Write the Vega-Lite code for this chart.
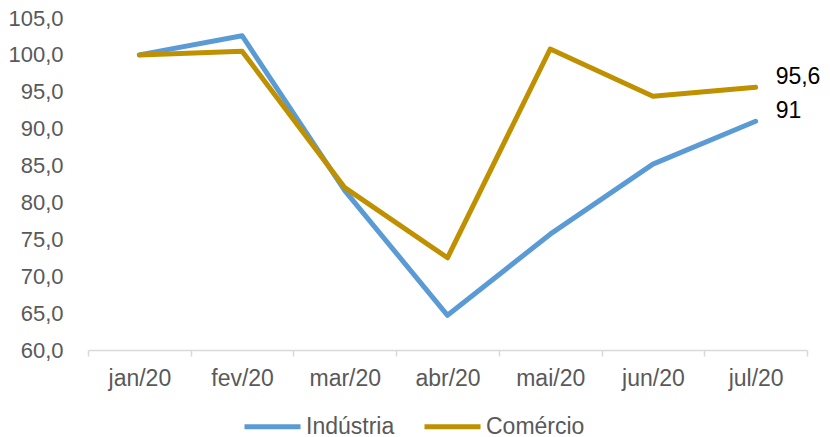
{
  "$schema": "https://vega.github.io/schema/vega-lite/v6.json",
  "width": 719,
  "height": 332,
  "autosize": {"type": "none"},
  "padding": {"left": 88, "top": 18, "right": 23, "bottom": 87},
  "background": "#ffffff",
  "config": {
    "view": {"stroke": null},
    "font": "Liberation Sans",
    "locale": {
      "number": {"decimal": ",", "thousands": ".", "grouping": [3], "currency": ["R$", ""]}
    }
  },
  "data": {
    "values": [
      {"mes": "jan/20", "serie": "Indústria", "valor": 100.0},
      {"mes": "fev/20", "serie": "Indústria", "valor": 102.6},
      {"mes": "mar/20", "serie": "Indústria", "valor": 81.6},
      {"mes": "abr/20", "serie": "Indústria", "valor": 64.7},
      {"mes": "mai/20", "serie": "Indústria", "valor": 75.7},
      {"mes": "jun/20", "serie": "Indústria", "valor": 85.2},
      {"mes": "jul/20", "serie": "Indústria", "valor": 91.0},
      {"mes": "jan/20", "serie": "Comércio", "valor": 100.0},
      {"mes": "fev/20", "serie": "Comércio", "valor": 100.5},
      {"mes": "mar/20", "serie": "Comércio", "valor": 82.0},
      {"mes": "abr/20", "serie": "Comércio", "valor": 72.5},
      {"mes": "mai/20", "serie": "Comércio", "valor": 100.8},
      {"mes": "jun/20", "serie": "Comércio", "valor": 94.4},
      {"mes": "jul/20", "serie": "Comércio", "valor": 95.6}
    ]
  },
  "encoding": {
    "x": {
      "field": "mes",
      "type": "ordinal",
      "sort": null,
      "scale": {"type": "band", "paddingInner": 0, "paddingOuter": 0},
      "axis": {
        "title": null,
        "labelAngle": 0,
        "labelFontSize": 23,
        "labelColor": "#595959",
        "domainColor": "#d9d9d9",
        "domainWidth": 1.5,
        "tickColor": "#d9d9d9",
        "tickWidth": 1.5,
        "tickSize": 6,
        "tickBand": "extent",
        "labelPadding": 11,
        "grid": false
      }
    },
    "y": {
      "field": "valor",
      "type": "quantitative",
      "scale": {"domain": [60, 105], "nice": false, "zero": false},
      "axis": {
        "title": null,
        "values": [60, 65, 70, 75, 80, 85, 90, 95, 100, 105],
        "format": ".1f",
        "labelFontSize": 22,
        "labelColor": "#595959",
        "domain": false,
        "ticks": false,
        "tickSize": 0,
        "labelPadding": 25,
        "grid": false
      }
    }
  },
  "layer": [
    {
      "mark": {"type": "line", "strokeWidth": 5, "strokeCap": "round", "strokeJoin": "round"},
      "encoding": {
        "color": {
          "field": "serie",
          "type": "nominal",
          "scale": {"domain": ["Indústria", "Comércio"], "range": ["#5B9BD5", "#BF9000"]},
          "legend": {
            "title": null,
            "orient": "none",
            "direction": "horizontal",
            "legendX": 154,
            "legendY": 378,
            "symbolType": "stroke",
            "symbolSize": 3136,
            "symbolStrokeWidth": 5,
            "labelFontSize": 23,
            "labelColor": "#595959",
            "labelOffset": 3,
            "columnPadding": 19
          }
        }
      }
    },
    {
      "transform": [{"filter": "datum.mes === 'jul/20'"}],
      "mark": {"type": "text", "align": "left", "baseline": "middle", "dx": 20, "dy": -10, "fontSize": 23, "color": "#000000"},
      "encoding": {
        "text": {"field": "valor", "type": "quantitative", "format": "~g"}
      }
    }
  ]
}
